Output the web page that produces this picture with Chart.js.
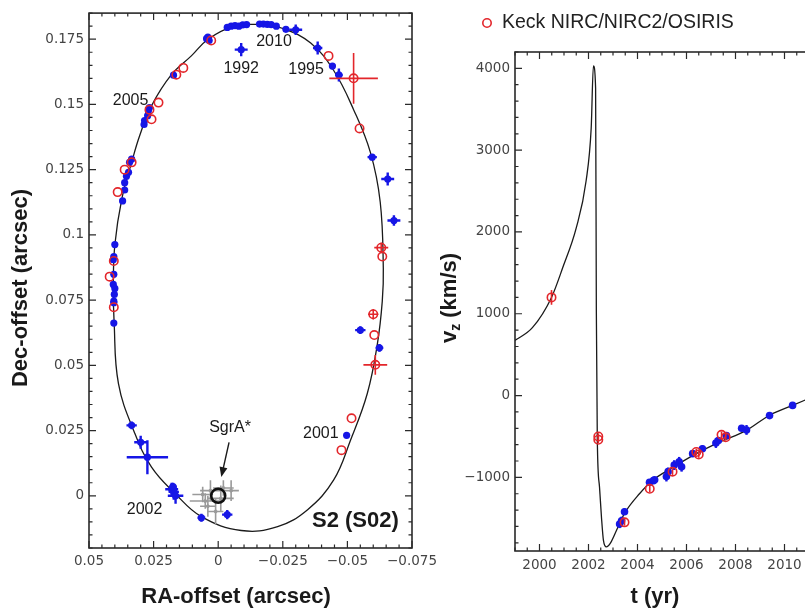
<!DOCTYPE html>
<html>
<head>
<meta charset="utf-8">
<script src="https://cdn.jsdelivr.net/npm/chart.js@4.4.1/dist/chart.umd.min.js"></script>
<style>
  html, body { margin: 0; padding: 0; background: #fff; width: 805px; height: 612px; overflow: hidden; }
  #orbit { position: absolute; left: 0; top: 0; }
  #vz { position: absolute; left: 420px; top: 0; }
</style>
</head>
<body>
<canvas id="orbit" width="450" height="612"></canvas>
<canvas id="vz" width="480" height="612"></canvas>
<script>
// ---- left panel: S2 orbit on the sky (arcsec) ----
const orbitRA  = [-0.0166, -0.0062, 0.0039, 0.0104, 0.0181, 0.0258, 0.0304, 0.0335, 0.0373, 0.0400, 0.0406, 0.0403, 0.0386, 0.0323, 0.0258, 0.0169, 0.0065, -0.0089, -0.0230, -0.0346, -0.0447, -0.0512, -0.0577, -0.0616, -0.0635, -0.0639, -0.0627, -0.0589, -0.0524, -0.0447, -0.0358, -0.0254, -0.0166];
const orbitDec = [0.1808, 0.1800, 0.1750, 0.1686, 0.1614, 0.1495, 0.1380, 0.1278, 0.1138, 0.0962, 0.0800, 0.0670, 0.0430, 0.0240, 0.0110, 0.0011, -0.0080, -0.0133, -0.0118, -0.0053, 0.0061, 0.0213, 0.0392, 0.0582, 0.0746, 0.0871, 0.1126, 0.1316, 0.1480, 0.1630, 0.1735, 0.1790, 0.1808];
const raTicks  = [0.05, 0.025, 0, -0.025, -0.05, -0.075];
const decTicks = [0, 0.025, 0.05, 0.075, 0.1, 0.125, 0.15, 0.175];

// [RA, Dec, errRA, errDec]
const vltPos = [
  [0.0045, 0.1752, 0, 0], [0.0035, 0.1745, 0, 0], [0.0040, 0.1758, 0, 0],
  [-0.0035, 0.1795, 0, 0], [-0.0050, 0.1800, 0, 0], [-0.0065, 0.1802, 0, 0], [-0.0080, 0.1800, 0, 0],
  [-0.0095, 0.1805, 0, 0], [-0.0110, 0.1806, 0, 0], [-0.0160, 0.1808, 0, 0], [-0.0175, 0.1808, 0, 0],
  [-0.0190, 0.1807, 0, 0], [-0.0205, 0.1806, 0, 0], [-0.0225, 0.1800, 0, 0], [-0.0262, 0.1788, 0, 0],
  [-0.0300, 0.1786, 0.0025, 0.0020], [-0.0385, 0.1716, 0.0018, 0.0025], [-0.0442, 0.1647, 0.0012, 0.0012],
  [-0.0467, 0.1613, 0.0015, 0.0025], [-0.0596, 0.1298, 0.0018, 0.0012], [-0.0656, 0.1214, 0.0025, 0.0025],
  [-0.0680, 0.1055, 0.0025, 0.0020], [-0.0089, 0.1710, 0.0025, 0.0025], [0.0173, 0.1612, 0, 0],
  [0.0266, 0.1488, 0, 0], [0.0270, 0.1476, 0, 0], [0.0273, 0.1457, 0, 0], [0.0285, 0.1438, 0, 0], [0.0287, 0.1423, 0, 0],
  [0.0335, 0.1290, 0, 0], [0.0343, 0.1278, 0, 0], [0.0347, 0.1240, 0, 0], [0.0355, 0.1225, 0, 0],
  [0.0362, 0.1200, 0, 0], [0.0362, 0.1172, 0, 0], [0.0370, 0.1130, 0, 0],
  [0.0400, 0.0963, 0, 0], [0.0404, 0.0917, 0, 0], [0.0406, 0.0905, 0, 0], [0.0404, 0.0849, 0, 0],
  [0.0406, 0.0810, 0, 0], [0.0400, 0.0795, 0, 0], [0.0402, 0.0772, 0, 0], [0.0404, 0.0746, 0, 0],
  [0.0404, 0.0740, 0, 0], [0.0404, 0.0662, 0, 0],
  [0.0335, 0.0270, 0.0020, 0.0015], [0.0300, 0.0205, 0.0025, 0.0025], [0.0274, 0.0148, 0.0080, 0.0065],
  [0.0180, 0.0025, 0.0025, 0.0025], [0.0172, 0.0015, 0.0020, 0.0030], [0.0165, 0.0000, 0.0030, 0.0030],
  [0.0175, 0.0035, 0.0015, 0.0015], [0.0065, -0.0084, 0.0015, 0.0015], [-0.0035, -0.0072, 0.0020, 0.0018],
  [-0.0550, 0.0635, 0.0020, 0.0015], [-0.0624, 0.0567, 0.0015, 0.0015], [-0.0497, 0.0232, 0.0010, 0]
];
const keckPos = [
  [0.0027, 0.1745, 0, 0], [0.0162, 0.1614, 0, 0], [0.0135, 0.1640, 0, 0], [0.0231, 0.1507, 0, 0],
  [0.0266, 0.1480, 0, 0], [0.0258, 0.1443, 0, 0], [0.0362, 0.1250, 0, 0], [0.0335, 0.1278, 0, 0],
  [0.0389, 0.1164, 0, 0], [0.0404, 0.0900, 0, 0], [0.0420, 0.0840, 0, 0], [0.0404, 0.0723, 0, 0],
  [-0.0427, 0.1686, 0, 0], [-0.0524, 0.1600, 0.0094, 0.0097], [-0.0547, 0.1408, 0, 0],
  [-0.0631, 0.0951, 0.0027, 0.0020], [-0.0635, 0.0917, 0, 0], [-0.0600, 0.0696, 0.0020, 0.0020],
  [-0.0604, 0.0616, 0, 0], [-0.0608, 0.0502, 0.0046, 0.0038], [-0.0516, 0.0297, 0, 0], [-0.0477, 0.0175, 0, 0]
];
const sgrFlares = [
  [0.0030, 0.0020, 0.0040, 0.0040], [0.0050, -0.0020, 0.0060, 0.0030], [-0.0020, 0.0030, 0.0040, 0.0030],
  [-0.0050, 0.0020, 0.0030, 0.0040], [0.0040, -0.0040, 0.0030, 0.0040], [0.0010, -0.0060, 0.0030, 0.0050],
  [-0.0010, -0.0010, 0.0050, 0.0050], [0.0060, 0.0005, 0.0040, 0.0030]
];
const sgrPos = [[0, 0]];

// ---- right panel: radial velocity (km/s) ----
const vzTime = [1998.98, 1999.71, 2000.49, 2000.95, 2001.50, 2001.90, 2002.11, 2002.20, 2002.29, 2002.32, 2002.36, 2002.45, 2002.53, 2002.61, 2002.73, 2002.90, 2003.14, 2003.47, 2004.08, 2004.60, 2005.43, 2006.40, 2007.35, 2008.45, 2009.39, 2010.33, 2011.00];
const vzFit  = [670, 830, 1200, 1565, 2050, 2620, 3270, 4030, 3760, 1040, -550, -1120, -1490, -1770, -1850, -1800, -1650, -1440, -1200, -1040, -880, -710, -570, -425, -240, -120, -35];
const yearTicks = [2000, 2002, 2004, 2006, 2008, 2010, 2012];
const vzTicks = [-1000, 0, 1000, 2000, 3000, 4000];
// [year, vz, err]
const keckVz = [
  [2000.49, 1200, 90], [2002.40, -500, 40], [2002.40, -540, 40], [2003.47, -1550, 40], [2004.50, -1140, 40],
  [2005.43, -930, 40], [2006.40, -690, 40], [2006.50, -720, 40], [2007.43, -480, 40], [2007.60, -510, 40]
];
const vltVz = [
  [2003.27, -1570, 50], [2003.35, -1530, 50], [2003.47, -1420, 40], [2004.49, -1060, 40], [2004.65, -1040, 40],
  [2004.70, -1030, 30], [2005.18, -990, 60], [2005.25, -930, 50], [2005.50, -850, 60], [2005.70, -810, 60],
  [2005.80, -870, 60], [2006.25, -710, 40], [2006.65, -650, 40], [2007.20, -580, 60], [2007.30, -550, 40],
  [2007.63, -490, 40], [2008.25, -400, 30], [2008.45, -420, 60], [2009.39, -245, 30], [2010.33, -120, 30]
];

const BLUE = '#1616e6';
const RED = '#e3262b';
const GRAY = '#9a9a9a';
const tickFont = { family: 'DejaVu Sans', size: 13.5 };
const labelFont = '16px "Liberation Sans", Arial, sans-serif';
const titleFont = 'bold 22px "Liberation Sans", Arial, sans-serif';

const minusFmt = v => {
  if (Math.abs(v) < 1e-9) return '0';
  return (v < 0 ? '\u2212' : '') + parseFloat(Math.abs(v).toFixed(4));
};
const fixedTicks = list => s => { s.ticks = list.map(v => ({ value: v })); };

// error bars drawn under each dataset's markers
const errorBars = {
  id: 'errorBars',
  beforeDatasetDraw(chart, args) {
    const ds = chart.data.datasets[args.index];
    if (!ds.errColor) return;
    const { ctx, chartArea: a, scales: { x, y } } = chart;
    ctx.save();
    ctx.beginPath();
    ctx.rect(a.left, a.top, a.width, a.height);
    ctx.clip();
    ctx.strokeStyle = ds.errColor;
    ctx.lineWidth = ds.errWidth;
    ds.data.forEach(p => {
      const px = x.getPixelForValue(p.x), py = y.getPixelForValue(p.y);
      ctx.beginPath();
      if (p.ex) { ctx.moveTo(x.getPixelForValue(p.x - p.ex), py); ctx.lineTo(x.getPixelForValue(p.x + p.ex), py); }
      if (p.ey) { ctx.moveTo(px, y.getPixelForValue(p.y - p.ey)); ctx.lineTo(px, y.getPixelForValue(p.y + p.ey)); }
      ctx.stroke();
    });
    ctx.restore();
  }
};

// box round the plot with inward ticks on all four sides
const frameTicks = (xMinor, xMajor, yMinor, yMajor) => ({
  id: 'frameTicks',
  afterDatasetsDraw(chart) {
    const { ctx, chartArea: a, scales: { x, y } } = chart;
    ctx.save();
    ctx.strokeStyle = '#2a2a2a';
    ctx.lineWidth = 1.6;
    ctx.strokeRect(a.left, a.top, a.width, a.height);
    ctx.lineWidth = 1.2;
    const marks = (scale, minor, major, fn) => {
      const n0 = Math.ceil(scale.min / minor - 1e-6), n1 = Math.floor(scale.max / minor + 1e-6);
      for (let n = n0; n <= n1; n++) {
        const v = n * minor;
        const isMajor = Math.abs(v / major - Math.round(v / major)) < 1e-6;
        fn(scale.getPixelForValue(v), isMajor ? 7 : 3.5);
      }
    };
    ctx.beginPath();
    marks(x, xMinor, xMajor, (p, len) => {
      ctx.moveTo(p, a.bottom); ctx.lineTo(p, a.bottom - len);
      ctx.moveTo(p, a.top); ctx.lineTo(p, a.top + len);
    });
    marks(y, yMinor, yMajor, (p, len) => {
      ctx.moveTo(a.left, p); ctx.lineTo(a.left + len, p);
      ctx.moveTo(a.right, p); ctx.lineTo(a.right - len, p);
    });
    ctx.stroke();
    ctx.restore();
  }
});

// titles, year labels, arrow, legend
const notes = items => ({
  id: 'notes',
  afterDraw(chart) {
    const { ctx, scales: { x, y } } = chart;
    items.forEach(it => {
      ctx.save();
      ctx.fillStyle = it.color || '#1a1a1a';
      ctx.strokeStyle = it.color || '#1a1a1a';
      let px, py;
      if (it.at) { px = x.getPixelForValue(it.at[0]); py = y.getPixelForValue(it.at[1]); }
      else { px = it.px[0]; py = it.px[1]; }
      if (it.arrowTo) {
        const tx = x.getPixelForValue(it.arrowTo[0]), ty = y.getPixelForValue(it.arrowTo[1]);
        const ang = Math.atan2(ty - py, tx - px);
        const c = Math.cos(ang), s = Math.sin(ang);
        ctx.lineWidth = 1.4;
        ctx.beginPath(); ctx.moveTo(px, py); ctx.lineTo(tx - 6 * c, ty - 6 * s); ctx.stroke();
        ctx.beginPath();
        ctx.moveTo(tx, ty);
        ctx.lineTo(tx - 10 * c + 4 * s, ty - 10 * s - 4 * c);
        ctx.lineTo(tx - 10 * c - 4 * s, ty - 10 * s + 4 * c);
        ctx.closePath(); ctx.fill();
      } else if (it.marker) {
        ctx.lineWidth = 1.6;
        ctx.beginPath(); ctx.arc(px, py, 4.2, 0, Math.PI * 2); ctx.stroke();
      } else {
        ctx.translate(px, py);
        if (it.rotate) ctx.rotate(it.rotate);
        ctx.textBaseline = 'middle';
        ctx.textAlign = 'left';
        const parts = it.parts || [{ t: it.text, font: it.font }];
        let w = 0;
        parts.forEach(p => { ctx.font = p.font; w += ctx.measureText(p.t).width; });
        let cx = it.align === 'left' ? 0 : -w / 2;
        parts.forEach(p => {
          ctx.font = p.font;
          ctx.fillText(p.t, cx, p.dy || 0);
          cx += ctx.measureText(p.t).width;
        });
      }
      ctx.restore();
    });
  }
});

const pts = rows => rows.map(r => ({ x: r[0], y: r[1], ex: r[2], ey: r[3] }));

new Chart(document.getElementById('orbit'), {
  type: 'scatter',
  data: {
    datasets: [
      { label: 'fit', data: orbitRA.map((v, i) => ({ x: v, y: orbitDec[i] })), showLine: true, tension: 0.4,
        borderColor: '#1a1a1a', borderWidth: 1.3, pointRadius: 0, order: 10 },
      { label: 'SgrA* flares', data: pts(sgrFlares), pointRadius: 1.5, backgroundColor: GRAY, borderColor: GRAY,
        errColor: GRAY, errWidth: 1.6, order: 8 },
      { label: 'VLT', data: pts(vltPos), pointRadius: 3.6, backgroundColor: BLUE, borderColor: BLUE, borderWidth: 0,
        errColor: BLUE, errWidth: 2.4, order: 6 },
      { label: 'Keck NIRC/NIRC2/OSIRIS', data: pts(keckPos), pointRadius: 4.2, backgroundColor: 'rgba(0,0,0,0)',
        borderColor: RED, borderWidth: 1.6, errColor: RED, errWidth: 1.6, order: 4 },
      { label: 'SgrA*', data: sgrPos.map(r => ({ x: r[0], y: r[1] })), pointRadius: 7, backgroundColor: 'rgba(0,0,0,0)',
        borderColor: '#111', borderWidth: 2.6, order: 2 }
    ]
  },
  options: {
    responsive: false,
    animation: false,
    events: [],
    layout: { padding: { top: 10, right: 38, left: 0, bottom: 0 } },
    scales: {
      x: {
        type: 'linear', reverse: true, min: -0.075, max: 0.05,
        grid: { display: false, drawTicks: false }, border: { display: false },
        afterBuildTicks: fixedTicks(raTicks),
        ticks: { callback: minusFmt, font: tickFont, color: '#444', padding: 5, maxRotation: 0, autoSkip: false },
        afterFit: s => { s.height = 64; }
      },
      y: {
        type: 'linear', min: -0.02, max: 0.185,
        grid: { display: false, drawTicks: false }, border: { display: false },
        afterBuildTicks: fixedTicks(decTicks),
        ticks: { callback: minusFmt, font: tickFont, color: '#444', padding: 5, autoSkip: false },
        afterFit: s => { s.width = 89; }
      }
    },
    plugins: { legend: { display: false }, tooltip: { enabled: false } }
  },
  plugins: [errorBars, frameTicks(0.005, 0.025, 0.005, 0.025), notes([
    { text: '1992', at: [-0.0089, 0.1636], font: labelFont },
    { text: '2010', at: [-0.0216, 0.1739], font: labelFont },
    { text: '1995', at: [-0.0340, 0.1632], font: labelFont },
    { text: '2005', at: [0.0339, 0.1514], font: labelFont },
    { text: '2001', at: [-0.0397, 0.0240], font: labelFont },
    { text: '2002', at: [0.0285, -0.0053], font: labelFont },
    { text: 'SgrA*', at: [-0.0046, 0.0262], font: labelFont },
    { at: [-0.0042, 0.0205], arrowTo: [-0.0012, 0.0072] },
    { text: 'S2 (S02)', at: [-0.0531, -0.0095], font: titleFont },
    { text: 'Dec-offset (arcsec)', px: [21, 288], rotate: -Math.PI / 2, font: titleFont },
    { text: 'RA-offset (arcsec)', px: [236, 597], font: titleFont }
  ])]
});

new Chart(document.getElementById('vz'), {
  type: 'scatter',
  data: {
    datasets: [
      { label: 'fit', data: vzTime.map((t, i) => ({ x: t, y: vzFit[i] })), showLine: true, cubicInterpolationMode: 'monotone',
        borderColor: '#1a1a1a', borderWidth: 1.3, pointRadius: 0, order: 10 },
      { label: 'VLT', data: vltVz.map(r => ({ x: r[0], y: r[1], ey: r[2] })), pointRadius: 3.8, backgroundColor: BLUE,
        borderColor: BLUE, borderWidth: 0, errColor: BLUE, errWidth: 2.4, order: 6 },
      { label: 'Keck NIRC/NIRC2/OSIRIS', data: keckVz.map(r => ({ x: r[0], y: r[1], ey: r[2] })), pointRadius: 4.2,
        backgroundColor: 'rgba(0,0,0,0)', borderColor: RED, borderWidth: 1.6, errColor: RED, errWidth: 1.6, order: 4 }
    ]
  },
  options: {
    responsive: false,
    animation: false,
    events: [],
    layout: { padding: { top: 52, right: 42, left: 0, bottom: 0 } },
    scales: {
      x: {
        type: 'linear', min: 1999, max: 2013,
        grid: { display: false, drawTicks: false }, border: { display: false },
        afterBuildTicks: fixedTicks(yearTicks),
        ticks: { callback: v => String(v), font: tickFont, color: '#444', padding: 6, maxRotation: 0, autoSkip: false },
        afterFit: s => { s.height = 61; }
      },
      y: {
        type: 'linear', min: -1900, max: 4200,
        grid: { display: false, drawTicks: false }, border: { display: false },
        afterBuildTicks: fixedTicks(vzTicks),
        ticks: { callback: minusFmt, font: tickFont, color: '#444', padding: 5, autoSkip: false },
        afterFit: s => { s.width = 95; }
      }
    },
    plugins: { legend: { display: false }, tooltip: { enabled: false } }
  },
  plugins: [errorBars, frameTicks(0.5, 2, 200, 1000), notes([
    { marker: true, px: [67, 23], color: RED },
    { text: 'Keck NIRC/NIRC2/OSIRIS', px: [82, 23], align: 'left', font: '19.5px "Liberation Sans", Arial, sans-serif', color: '#222' },
    { px: [30, 298], rotate: -Math.PI / 2, parts: [
      { t: 'v', font: titleFont },
      { t: 'z', font: 'bold 14px "Liberation Sans", Arial, sans-serif', dy: 6 },
      { t: ' (km/s)', font: titleFont }
    ] },
    { text: 't (yr)', px: [235, 597], font: titleFont }
  ])]
});
</script>
</body>
</html>
